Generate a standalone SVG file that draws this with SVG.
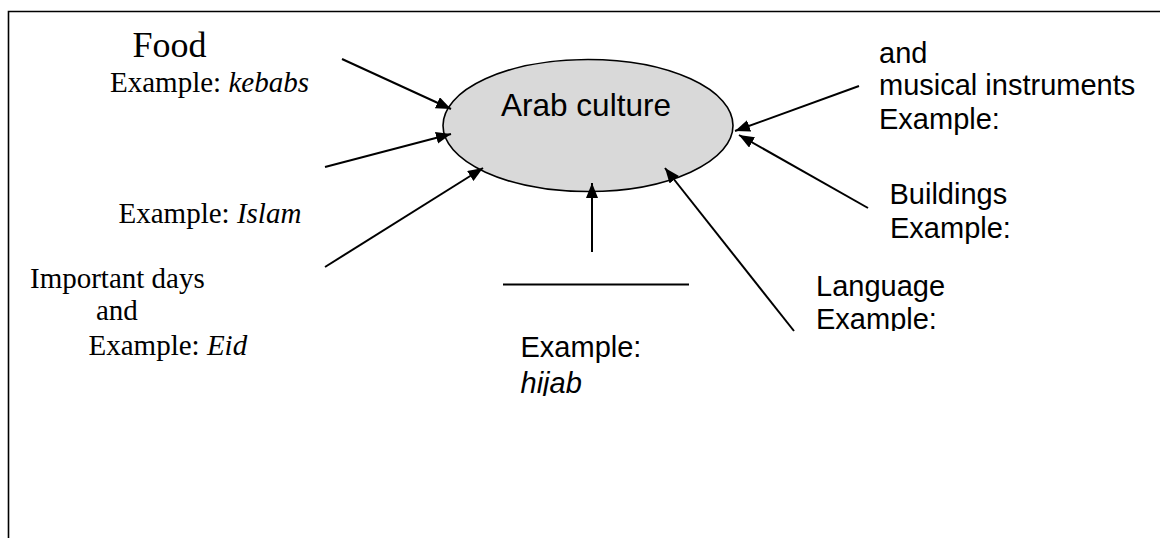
<svg xmlns="http://www.w3.org/2000/svg" width="1160" height="538" viewBox="0 0 1160 538">
<style>
.serif{font-family:"Liberation Serif","Times New Roman",serif;font-size:29px;fill:#000}
.sans{font-family:"Liberation Sans",Arial,sans-serif;font-size:29px;fill:#000}
.conn{stroke:#000;stroke-width:2;fill:none}
</style>
<defs>
<marker id="ah" markerUnits="userSpaceOnUse" markerWidth="16" markerHeight="13" refX="15" refY="6" orient="auto">
<path d="M0,0 L15,6 L0,12 z" fill="#000"/>
</marker>
<clipPath id="clipLang"><rect x="780" y="250" width="300" height="81"/></clipPath>
<clipPath id="clipHijab"><rect x="500" y="320" width="200" height="76"/></clipPath>
</defs>
<rect width="1160" height="538" fill="#fff"/>
<path d="M8.5,540 L8.5,11.5 L1162,11.5" fill="none" stroke="#000" stroke-width="1.6"/>

<g id="center">
<ellipse cx="588" cy="125.5" rx="145" ry="66" fill="#d9d9d9" stroke="#000" stroke-width="1.6"/>
<text class="sans" x="586" y="116" text-anchor="middle" style="font-size:31.5px">Arab culture</text>
</g>

<g id="connectors">
<line class="conn" x1="342" y1="59" x2="451" y2="109" marker-end="url(#ah)"/>
<line class="conn" x1="325" y1="167" x2="451" y2="134" marker-end="url(#ah)"/>
<line class="conn" x1="325" y1="267" x2="483" y2="168" marker-end="url(#ah)"/>
<line class="conn" x1="592" y1="252" x2="592" y2="183" marker-end="url(#ah)"/>
<line class="conn" x1="794" y1="331" x2="665" y2="168" marker-end="url(#ah)"/>
<line class="conn" x1="859" y1="86" x2="735" y2="131" marker-end="url(#ah)"/>
<line class="conn" x1="868" y1="208" x2="739" y2="135" marker-end="url(#ah)"/>
</g>

<g id="food">
<text class="serif" x="132.5" y="56.5" style="font-size:36px">Food</text>
<text class="serif" x="110" y="91.5">Example: <tspan font-style="italic">kebabs</tspan></text>
</g>

<g id="religion">
<text class="serif" x="118.5" y="223">Example: <tspan font-style="italic">Islam</tspan></text>
</g>

<g id="days">
<text class="serif" x="30" y="288">Important days</text>
<text class="serif" x="96" y="320">and</text>
<text class="serif" x="88.5" y="355">Example: <tspan font-style="italic">Eid</tspan></text>
</g>

<g id="clothing">
<line x1="503" y1="284.5" x2="689" y2="284.5" stroke="#000" stroke-width="2"/>
<g clip-path="url(#clipHijab)">
<text class="sans" x="520.5" y="356.5">Example:</text>
<text class="sans" x="520.5" y="393" font-style="italic">hijab</text>
</g>
</g>

<g id="language">
<g clip-path="url(#clipLang)">
<text class="sans" x="816" y="295.5">Language</text>
<text class="sans" x="816" y="328.5">Example:</text>
</g>
</g>

<g id="music">
<text class="sans" x="879" y="63">and</text>
<text class="sans" x="879" y="95">musical instruments</text>
<text class="sans" x="879" y="129">Example:</text>
</g>

<g id="buildings">
<text class="sans" x="889.5" y="204">Buildings</text>
<text class="sans" x="890" y="238">Example:</text>
</g>
</svg>
